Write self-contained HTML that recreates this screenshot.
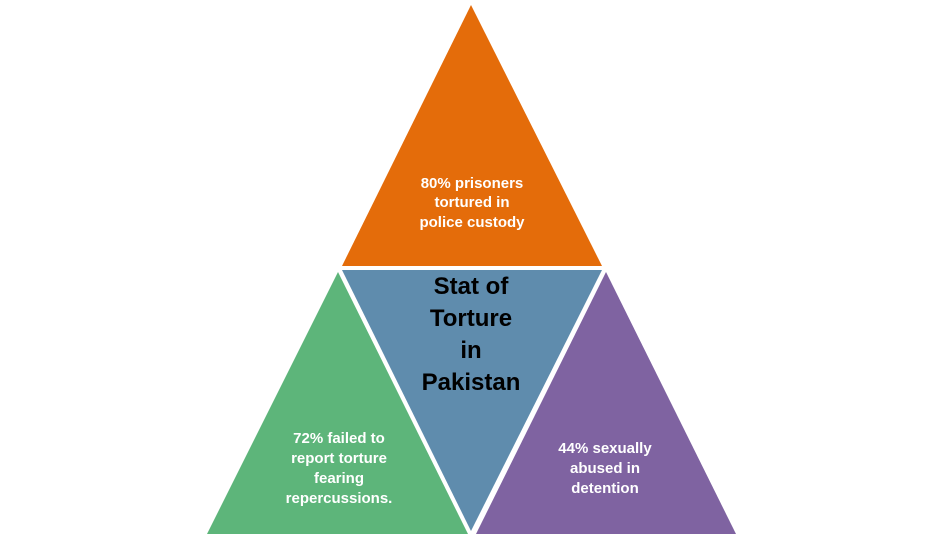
<!DOCTYPE html>
<html><head><style>
body{margin:0;width:943px;height:537px;background:#fff;overflow:hidden}
svg{display:block}
text{font-family:"Liberation Sans",sans-serif;font-weight:bold;text-anchor:middle}
</style></head><body>
<svg width="943" height="537" viewBox="0 0 943 537">
<polygon points="471,5 342,266 602,266" fill="#E46C0A"/>
<polygon points="342,270 602,270 471,531" fill="#5F8CAD"/>
<polygon points="338,272 207,534 468,534" fill="#5DB57A"/>
<polygon points="606,272 476,534 736,534" fill="#7F63A1"/>
<g fill="#fff" font-size="15">
<text x="472" y="188">80% prisoners</text>
<text x="472" y="207">tortured in</text>
<text x="472" y="227">police custody</text>
<text x="339" y="443">72% failed to</text>
<text x="339" y="463">report torture</text>
<text x="339" y="483">fearing</text>
<text x="339" y="503">repercussions.</text>
<text x="605" y="453">44% sexually</text>
<text x="605" y="473">abused in</text>
<text x="605" y="493">detention</text>
</g>
<g fill="#000" font-size="24">
<text x="471" y="294">Stat of</text>
<text x="471" y="326">Torture</text>
<text x="471" y="358">in</text>
<text x="471" y="390">Pakistan</text>
</g>
</svg>
</body></html>
